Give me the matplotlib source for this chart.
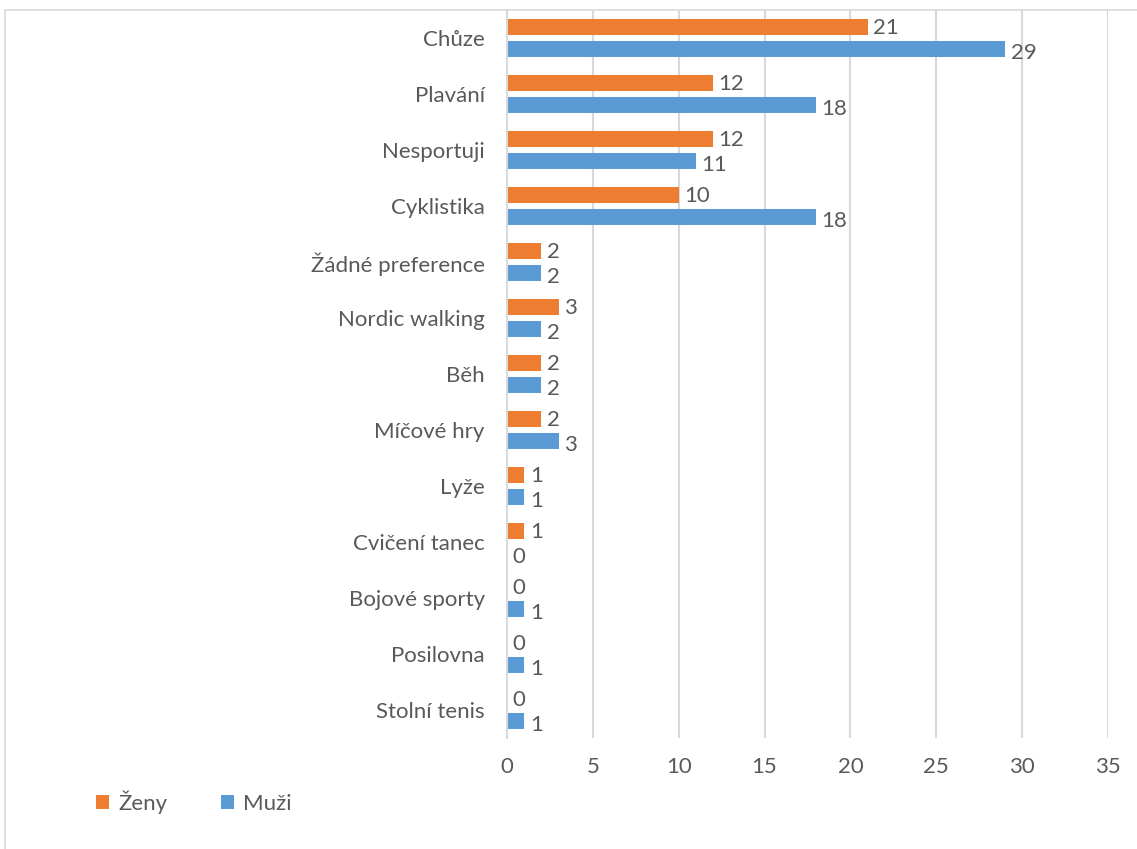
import numpy as np
import matplotlib.pyplot as plt
from matplotlib.patches import Rectangle

plt.rcParams['font.family'] = ['Lato', 'DejaVu Sans']

# sport preferences, top to bottom
categories = ["Chůze", "Plavání", "Nesportuji", "Cyklistika", "Žádné preference",
              "Nordic walking", "Běh", "Míčové hry", "Lyže", "Cvičení tanec",
              "Bojové sporty", "Posilovna", "Stolní tenis"]
zeny = [21, 12, 12, 10, 2, 3, 2, 2, 1, 1, 0, 0, 0]
muzi = [29, 18, 11, 18, 2, 2, 2, 3, 1, 0, 1, 1, 1]
xticks = [0, 5, 10, 15, 20, 25, 30, 35]

ORANGE = "#ED7D31"
BLUE = "#5B9BD5"
GRID = "#D9D9D9"
TEXT = "#595959"
FS = 16

fig = plt.figure(figsize=(11.37, 8.49), dpi=100)
ax = fig.add_axes([507 / 1137, 1 - 738 / 849, (1108 - 507) / 1137, (738 - 10) / 849])

# outer chart border
fig.patches.append(Rectangle((5 / 1137, -0.1), 1.2, 1 - 10 / 849 + 0.1,
                             transform=fig.transFigure, fill=False,
                             edgecolor=GRID, linewidth=1.2))

y = np.arange(len(categories))
h = 0.29
off = 0.196
ax.barh(y - off, zeny, height=h, color=ORANGE, label="Ženy", zorder=3)
ax.barh(y + off, muzi, height=h, color=BLUE, label="Muži", zorder=3)

for yi, v in zip(y, zeny):
    ax.annotate(str(v), (v, yi - off), xytext=(4, -1), textcoords="offset points",
                ha="left", va="center", fontsize=FS, color=TEXT)
for yi, v in zip(y, muzi):
    ax.annotate(str(v), (v, yi + off), xytext=(4, -3), textcoords="offset points",
                ha="left", va="center", fontsize=FS, color=TEXT)

ax.set_ylim(len(categories) - 0.5, -0.5)
ax.set_xlim(0, 35)
ax.set_xticks(xticks)
ax.set_yticks(y)
ax.set_yticklabels(categories)
ax.tick_params(axis="both", length=0, labelsize=FS, labelcolor=TEXT)
ax.tick_params(axis="y", pad=16)
ax.tick_params(axis="x", pad=14)
ax.grid(axis="x", color=GRID, linewidth=1.5, zorder=0)

for side in ["top", "right", "bottom"]:
    ax.spines[side].set_visible(False)
ax.spines["left"].set_color(GRID)
ax.spines["left"].set_linewidth(1.5)
ax.spines["left"].set_zorder(4)

fig.legend(loc="center left", bbox_to_anchor=(76 / 1137, 1 - 802 / 849), ncol=2,
           frameon=False, handlelength=0.6, handleheight=0.6, handletextpad=0.4,
           columnspacing=2.4, fontsize=FS, labelcolor=TEXT)

fig.savefig("out.png", dpi=100)
